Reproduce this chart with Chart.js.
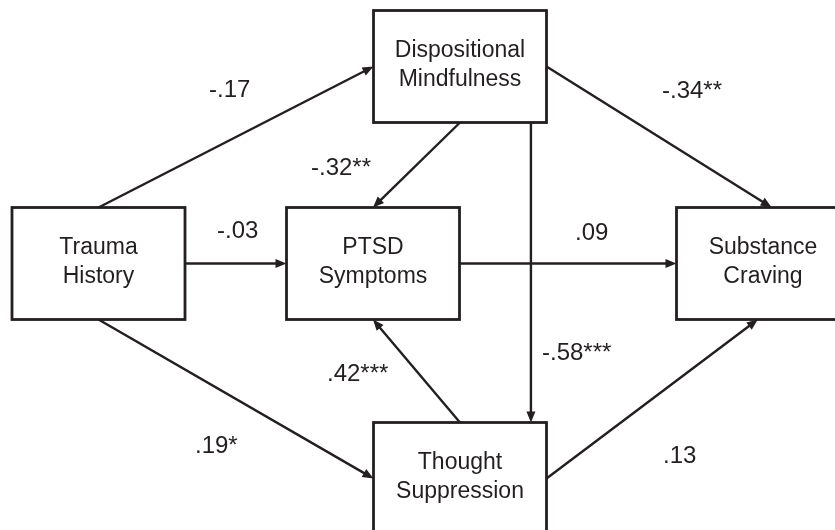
<!DOCTYPE html>
<html lang="en">
<head>
    <meta charset="UTF-8">
    <script src="https://cdn.jsdelivr.net/npm/chart.js"></script>
    <style>
        body { margin: 0; padding: 0; background: #ffffff; overflow: hidden; }
        .chart-container { position: relative; width: 835px; height: 530px; }
    </style>
</head>
<body>
    <div class="chart-container">
        <canvas id="myChart"></canvas>
    </div>

    <script>
        // --- DATA: path model nodes and standardized coefficients ---
        const nodeNames = [
            ['Trauma', 'History'],
            ['Dispositional', 'Mindfulness'],
            ['PTSD', 'Symptoms'],
            ['Substance', 'Craving'],
            ['Thought', 'Suppression']
        ];
        // node centres in diagram units (x: 0-835, y: 0-530 from top)
        const nodeX = [98.5, 460, 373, 763, 460];
        const nodeY = [263.5, 66.5, 263.5, 263.5, 478.5];

        const edgeFrom = [0, 0, 1, 1, 1, 2, 0, 4, 4];
        const edgeTo   = [1, 2, 2, 3, 4, 3, 4, 2, 3];
        const edgeCoef = ['-.17', '-.03', '-.32**', '-.34**', '-.58***', '.09', '.19*', '.42***', '.13'];

        // --- LAYOUT: where each arrow leaves / enters a box (fraction of box) ---
        const startPort = [[0.5, 0], [1, 0.5], [0.5, 1], [1, 0.5], [0.91, 1], [1, 0.5], [0.5, 1], [0.5, 0], [1, 0.5]];
        const endPort   = [[0, 0.5], [0, 0.5], [0.5, 0], [0.55, 0], [0.91, 0], [0, 0.5], [0, 0.5], [0.5, 1], [0.47, 1]];
        // coefficient label anchor (left x, baseline y)
        const labelPos = [[209, 97], [217, 238], [311, 175], [662, 98], [542, 360], [575, 240], [195, 453], [327, 381], [663, 463]];

        const BOX_W = 173, BOX_H = 112;
        const INK = '#231f20';
        const FONT = '"Liberation Sans", Arial, Helvetica, sans-serif';

        const diagramPlugin = {
            id: 'pathDiagram',
            afterDatasetsDraw(chart) {
                const ctx = chart.ctx;
                const xs = chart.scales.x, ys = chart.scales.y;
                const px = v => xs.getPixelForValue(v);
                const py = v => ys.getPixelForValue(v);

                const port = (n, p) => [
                    px(nodeX[n] - BOX_W / 2 + p[0] * BOX_W),
                    py(nodeY[n] - BOX_H / 2 + p[1] * BOX_H)
                ];

                ctx.save();
                ctx.strokeStyle = INK;
                ctx.fillStyle = INK;

                // arrows
                edgeFrom.forEach((f, i) => {
                    const [x1, y1] = port(f, startPort[i]);
                    const [x2, y2] = port(edgeTo[i], endPort[i]);
                    const a = Math.atan2(y2 - y1, x2 - x1);
                    const len = 11, half = 4.5;
                    ctx.lineWidth = 2.4;
                    ctx.beginPath();
                    ctx.moveTo(x1, y1);
                    ctx.lineTo(x2 - Math.cos(a) * len * 0.8, y2 - Math.sin(a) * len * 0.8);
                    ctx.stroke();
                    ctx.beginPath();
                    ctx.moveTo(x2, y2);
                    ctx.lineTo(x2 - Math.cos(a) * len - Math.sin(a) * half, y2 - Math.sin(a) * len + Math.cos(a) * half);
                    ctx.lineTo(x2 - Math.cos(a) * len + Math.sin(a) * half, y2 - Math.sin(a) * len - Math.cos(a) * half);
                    ctx.closePath();
                    ctx.fill();
                });

                // boxes and names
                nodeNames.forEach((lines, n) => {
                    const left = px(nodeX[n] - BOX_W / 2), top = py(nodeY[n] - BOX_H / 2);
                    ctx.fillStyle = '#ffffff';
                    ctx.fillRect(left, top, BOX_W, BOX_H);
                    ctx.lineWidth = 2.8;
                    ctx.strokeRect(left, top, BOX_W, BOX_H);
                    ctx.fillStyle = INK;
                    ctx.font = '23px ' + FONT;
                    ctx.textAlign = 'center';
                    ctx.textBaseline = 'alphabetic';
                    lines.forEach((t, k) => ctx.fillText(t, px(nodeX[n]), top + 46 + k * 29));
                });

                // coefficients
                ctx.font = '24px ' + FONT;
                ctx.textAlign = 'left';
                edgeCoef.forEach((c, i) => {
                    ctx.fillText(c, px(labelPos[i][0]), py(labelPos[i][1]));
                });
                ctx.restore();
            }
        };

        const ctx = document.getElementById('myChart').getContext('2d');
        new Chart(ctx, {
            type: 'scatter',
            data: {
                datasets: [{
                    label: 'nodes',
                    data: nodeX.map((x, i) => ({ x: x, y: nodeY[i] })),
                    pointRadius: 0
                }]
            },
            options: {
                responsive: true,
                maintainAspectRatio: false,
                animation: false,
                layout: { padding: 0 },
                scales: {
                    x: { type: 'linear', min: 0, max: 835, display: false },
                    y: { type: 'linear', min: 0, max: 530, reverse: true, display: false }
                },
                plugins: {
                    legend: { display: false },
                    tooltip: { enabled: false }
                }
            },
            plugins: [diagramPlugin]
        });
    </script>
</body>
</html>
